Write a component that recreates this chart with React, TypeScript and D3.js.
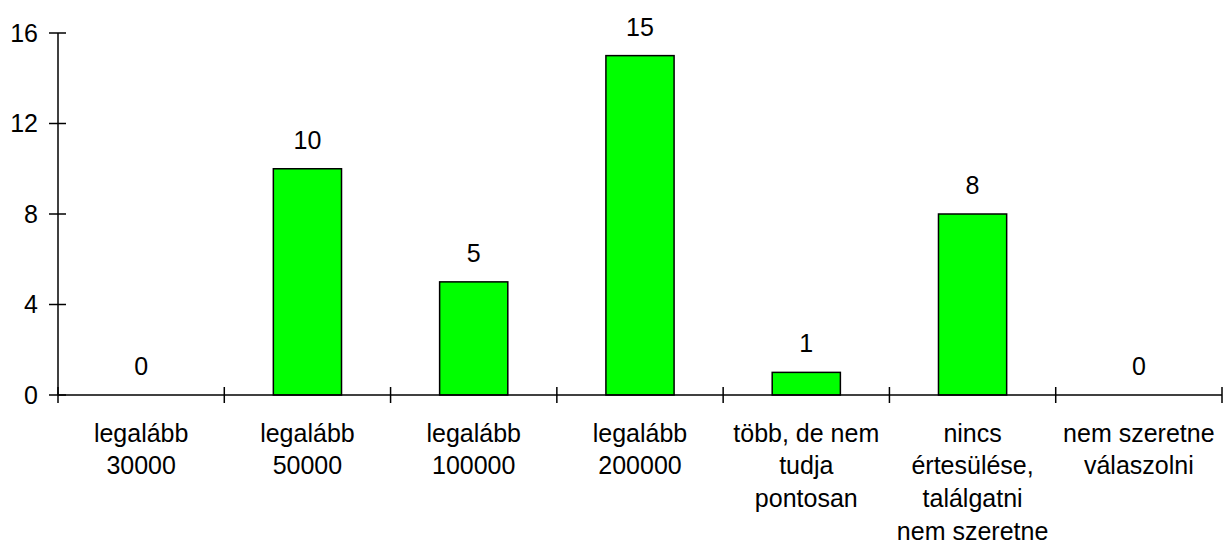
import React from "react";
import * as d3 from "d3";

const categories: string[][] = [
  ["legalább", "30000"],
  ["legalább", "50000"],
  ["legalább", "100000"],
  ["legalább", "200000"],
  ["több, de nem", "tudja", "pontosan"],
  ["nincs", "értesülése,", "találgatni", "nem szeretne"],
  ["nem szeretne", "válaszolni"],
];
const values: number[] = [0, 10, 5, 15, 1, 8, 0];
const yTicks: number[] = [0, 4, 8, 12, 16];

const W = 1224;
const H = 544;
const left = 58;
const right = 1222;
const top = 33;
const bottom = 395;
const FONT = "'Liberation Sans', Arial, sans-serif";
const FS = 25;
const LINE = 32.7;

export default function App() {
  const keys = categories.map((_, i) => String(i));
  const x = d3.scaleBand<string>().domain(keys).range([left, right]).padding(0);
  const y = d3.scaleLinear().domain([0, 16]).range([bottom, top]);
  const bw = x.bandwidth();
  const barW = bw * 0.41;
  const boundaries = keys.map((k) => x(k) as number).concat([right]);

  return (
    <svg
      width={W}
      height={H}
      style={{ position: "absolute", left: 0, top: 0, background: "#fff" }}
      fontFamily={FONT}
    >
      {values.map((v, i) => {
        const bx = (x(keys[i]) as number) + (bw - barW) / 2;
        return v > 0 ? (
          <rect
            key={"b" + i}
            x={bx}
            y={y(v)}
            width={barW}
            height={y(0) - y(v)}
            fill="#00FF00"
            stroke="#000"
            strokeWidth={1.5}
          />
        ) : null;
      })}
      {values.map((v, i) => (
        <text
          key={"v" + i}
          x={(x(keys[i]) as number) + bw / 2}
          y={y(v) - 20}
          textAnchor="middle"
          fontSize={FS}
          fill="#000"
        >
          {v}
        </text>
      ))}
      <line x1={left} x2={left} y1={top} y2={bottom} stroke="#000" strokeWidth={1.5} />
      {yTicks.map((t) => (
        <g key={"yt" + t}>
          <line x1={left - 9} x2={left + 8} y1={y(t)} y2={y(t)} stroke="#000" strokeWidth={1.5} />
          <text x={38} y={y(t) + 8.5} textAnchor="end" fontSize={FS} fill="#000">
            {t}
          </text>
        </g>
      ))}
      <line x1={left} x2={right} y1={bottom} y2={bottom} stroke="#000" strokeWidth={1.5} />
      {boundaries.map((bx, i) => (
        <line key={"xt" + i} x1={bx} x2={bx} y1={bottom - 8} y2={bottom + 8} stroke="#000" strokeWidth={1.5} />
      ))}
      {categories.map((lines, i) => (
        <text
          key={"c" + i}
          x={(x(keys[i]) as number) + bw / 2}
          y={441.5}
          textAnchor="middle"
          fontSize={FS}
          fill="#000"
        >
          {lines.map((ln, j) => (
            <tspan key={j} x={(x(keys[i]) as number) + bw / 2} y={441.5 + j * LINE}>
              {ln}
            </tspan>
          ))}
        </text>
      ))}
    </svg>
  );
}
